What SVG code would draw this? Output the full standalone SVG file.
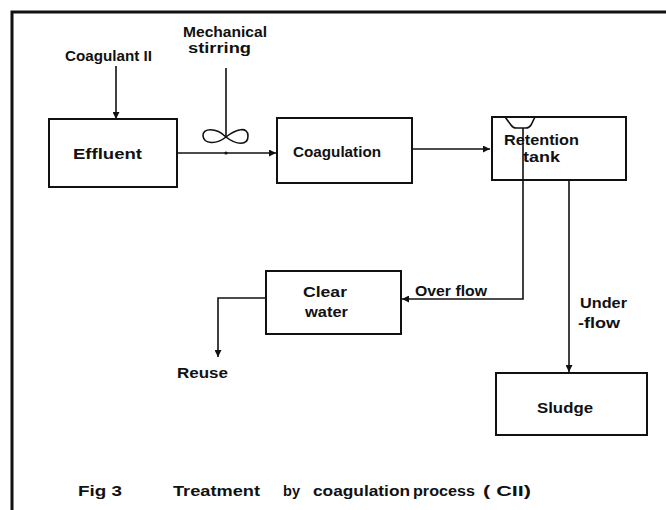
<svg xmlns="http://www.w3.org/2000/svg" width="666" height="510" viewBox="0 0 666 510">
<style>
.box{fill:none;stroke:#111;stroke-width:2}
.ln{fill:none;stroke:#111;stroke-width:1.6}
text{font-family:"Liberation Sans","DejaVu Sans",sans-serif;font-weight:bold;fill:#111}
.t{font-size:14px}
.c{font-size:15px}
</style>
<defs>
<marker id="ah" viewBox="0 0 10 10" refX="10" refY="5" markerWidth="7" markerHeight="7" markerUnits="userSpaceOnUse" orient="auto">
<path d="M0,0 L10,5 L0,10 Z" fill="#111"/>
</marker>
</defs>
<rect width="666" height="510" fill="#fff"/>
<g id="frame">
<path d="M12,510 L12,12 L666,12" fill="none" stroke="#111" stroke-width="3"/>
</g>
<g id="connectors">
<line class="ln" x1="116" y1="66" x2="116" y2="119" marker-end="url(#ah)"/>
<line class="ln" x1="226" y1="68" x2="226" y2="137"/>
<path class="ln" d="M226,137 C216,127 202,128 203,136 C204,144 216,145 226,137 C236,129 248,126 248,136 C248,146 236,145 226,137 Z"/>
<line class="ln" x1="177" y1="153" x2="276" y2="153" marker-end="url(#ah)"/>
<circle cx="226" cy="153" r="1.6" fill="#111"/>
<line class="ln" x1="412" y1="149" x2="490" y2="149" marker-end="url(#ah)"/>
<path class="ln" d="M505,117 L511,125 Q513,128 516,128 L526,128 Q529,128 531,125 L535,117"/>
<path class="ln" d="M523,128 L523,299 L402,299" marker-end="url(#ah)"/>
<line class="ln" x1="569" y1="180" x2="569" y2="372" marker-end="url(#ah)"/>
<path class="ln" d="M266,298 L218,298 L218,357" marker-end="url(#ah)"/>
</g>
<g id="coagulant-label">
<text class="t" x="65" y="61" textLength="87" lengthAdjust="spacingAndGlyphs">Coagulant II</text>
</g>
<g id="stirring-label">
<text class="t" x="183" y="37" textLength="84" lengthAdjust="spacingAndGlyphs">Mechanical</text>
<text class="t" x="188" y="53" textLength="63" lengthAdjust="spacingAndGlyphs">stirring</text>
</g>
<g id="effluent">
<rect class="box" x="49" y="119" width="128" height="68"/>
<text class="c" x="73" y="159" textLength="69" lengthAdjust="spacingAndGlyphs">Effluent</text>
</g>
<g id="coagulation">
<rect class="box" x="277" y="118" width="135" height="65"/>
<text class="c" x="293" y="157" textLength="88" lengthAdjust="spacingAndGlyphs">Coagulation</text>
</g>
<g id="retention-tank">
<rect class="box" x="492" y="117" width="134" height="63"/>
<text class="c" x="504" y="145" textLength="75" lengthAdjust="spacingAndGlyphs">Retention</text>
<text class="c" x="523" y="162" textLength="37" lengthAdjust="spacingAndGlyphs">tank</text>
</g>
<g id="clear-water">
<rect class="box" x="266" y="271" width="135" height="63"/>
<text class="c" x="303" y="297" textLength="44" lengthAdjust="spacingAndGlyphs">Clear</text>
<text class="c" x="305" y="317" textLength="43" lengthAdjust="spacingAndGlyphs">water</text>
</g>
<g id="overflow-label">
<text class="c" x="415" y="296" textLength="72" lengthAdjust="spacingAndGlyphs">Over flow</text>
</g>
<g id="underflow-label">
<text class="c" x="580" y="308" textLength="47" lengthAdjust="spacingAndGlyphs">Under</text>
<text class="c" x="578" y="328" textLength="42" lengthAdjust="spacingAndGlyphs">-flow</text>
</g>
<g id="reuse">
<text class="c" x="177" y="378" textLength="51" lengthAdjust="spacingAndGlyphs">Reuse</text>
</g>
<g id="sludge">
<rect class="box" x="496" y="373" width="151" height="62"/>
<text class="c" x="537" y="413" textLength="56" lengthAdjust="spacingAndGlyphs">Sludge</text>
</g>
<g id="caption">
<text class="c" x="78" y="496" textLength="44" lengthAdjust="spacingAndGlyphs">Fig 3</text>
<text class="c" x="173" y="496" textLength="87" lengthAdjust="spacingAndGlyphs">Treatment</text>
<text class="c" x="283" y="496" textLength="17" lengthAdjust="spacingAndGlyphs">by</text>
<text class="c" x="313" y="496" textLength="97" lengthAdjust="spacingAndGlyphs">coagulation</text>
<text class="c" x="413" y="496" textLength="62" lengthAdjust="spacingAndGlyphs">process</text>
<text class="c" x="483" y="496" textLength="48" lengthAdjust="spacingAndGlyphs">( CII)</text>
</g>
</svg>
